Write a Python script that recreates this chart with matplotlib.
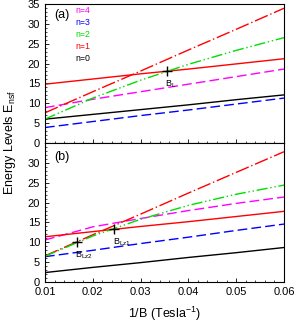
import matplotlib
matplotlib.use("Agg")
import matplotlib.pyplot as plt
from matplotlib.ticker import MultipleLocator, FixedLocator

plt.rcParams["font.family"] = ["Liberation Sans", "DejaVu Sans"]
plt.rcParams["mathtext.fontset"] = "custom"
plt.rcParams["mathtext.rm"] = "Liberation Sans"
plt.rcParams["mathtext.it"] = "Liberation Sans"

# --- data ---
inv_b = [0.01, 0.02, 0.03, 0.04, 0.05, 0.06]

# panel (a)
a_n0 = [6.0, 7.2, 8.4, 9.6, 10.9, 12.1]
a_n3 = [3.9, 5.4, 6.9, 8.3, 9.8, 11.3]
a_n4 = [8.9, 11.0, 12.9, 14.8, 16.7, 18.6]
a_n1 = [14.8, 16.1, 17.4, 18.6, 19.9, 21.2]
a_n1b = [7.6, 12.9, 18.1, 23.4, 28.6, 33.9]
a_n2 = [6.0, 11.3, 15.8, 19.8, 23.3, 26.5]

# panel (b)
b_n0 = [2.4, 3.7, 4.9, 6.2, 7.4, 8.7]
b_n3 = [6.4, 8.0, 9.7, 11.3, 13.0, 14.6]
b_n4 = [10.6, 13.9, 16.0, 18.0, 19.8, 21.4]
b_n1 = [11.4, 12.7, 14.0, 15.2, 16.5, 17.8]
b_n1b = [6.6, 11.9, 17.1, 22.4, 27.6, 32.8]
b_n2 = [6.5, 11.6, 15.8, 19.3, 22.1, 24.4]

# crossing points
a_cross_x = [0.0355]
a_cross_y = [18.0]
b_cross_x = [0.0168, 0.0244]
b_cross_y = [10.1, 13.3]

legend_labels = ["n=4", "n=3", "n=2", "n=1", "n=0"]
legend_colors = ["#ff00ff", "#0000ff", "#00dd00", "#ff0000", "#000000"]

dashdotdot = (0, (8, 2, 1, 2, 1, 2))
dashdot = (0, (10, 2, 1, 2))
dashed = (0, (7, 3))

fig = plt.figure(figsize=(2.95, 3.25), dpi=100)
ax1 = fig.add_axes([0.1525, 0.56, 0.81, 0.428])
ax2 = fig.add_axes([0.1525, 0.132, 0.81, 0.428])


def draw(ax, n0, n3, n4, n1, n1b, n2):
    ax.plot(inv_b, n0, color="black", lw=1)
    ax.plot(inv_b, n3, color="#0000ff", lw=1, linestyle=dashed)
    ax.plot(inv_b, n4, color="#ff00ff", lw=1, linestyle=dashed)
    ax.plot(inv_b, n1, color="#ff0000", lw=1)
    ax.plot(inv_b, n1b, color="#ff0000", lw=1, linestyle=dashdot)
    ax.plot(inv_b, n2, color="#00dd00", lw=1, linestyle=dashdotdot)
    ax.set_xlim(0.01, 0.06)
    ax.set_ylim(0, 35)
    ax.xaxis.set_major_locator(MultipleLocator(0.01))
    ax.xaxis.set_minor_locator(MultipleLocator(0.002))
    ax.yaxis.set_major_locator(MultipleLocator(5))
    ax.yaxis.set_minor_locator(MultipleLocator(1))
    ax.tick_params(direction="in", labelsize=8, length=3, width=0.6)
    ax.tick_params(which="minor", direction="in", length=1.5, width=0.5)
    for s in ax.spines.values():
        s.set_linewidth(0.8)


draw(ax1, a_n0, a_n3, a_n4, a_n1, a_n1b, a_n2)
draw(ax2, b_n0, b_n3, b_n4, b_n1, b_n1b, b_n2)

ax1.tick_params(labelbottom=False)
# bottom panel: no label at 35 (would clash with the 0 of the top panel)
ax2.yaxis.set_major_locator(FixedLocator([0, 5, 10, 15, 20, 25, 30]))

ax1.plot(a_cross_x, a_cross_y, "k+", ms=7, mew=1)
ax2.plot(b_cross_x, b_cross_y, "k+", ms=7, mew=1)
ax1.text(0.0352, 16.3, "B$_L$", fontsize=6.5, va="top")
ax2.text(0.0163, 8.2, "B$_{Lz2}$", fontsize=6.5, va="top")
ax2.text(0.0243, 11.4, "B$_{Lz1}$", fontsize=6.5, va="top")

ax1.text(0.012, 31.5, "(a)", fontsize=9)
ax2.text(0.012, 30.8, "(b)", fontsize=9)

for i, (lab, col) in enumerate(zip(legend_labels, legend_colors)):
    ax1.text(0.0163, 33.3 - i * 3.0, lab, color=col, fontsize=6.3, va="center")

fig.text(0.035, 0.56, "Energy Levels E$_{\\mathrm{nsf}}$", rotation=90,
         fontsize=9, va="center", ha="center")
ax2.set_xlabel("1/B (Tesla$^{-1}$)", fontsize=9, labelpad=6)

fig.savefig("out.png", dpi=100)
